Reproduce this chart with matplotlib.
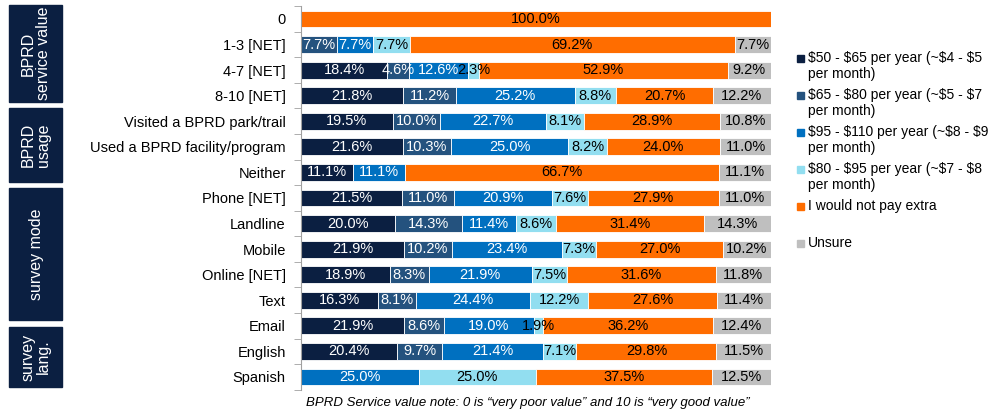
import numpy as np
import matplotlib
matplotlib.use("Agg")
import matplotlib.pyplot as plt
from matplotlib.patches import Rectangle

plt.rcParams['font.family'] = ['Liberation Sans', 'DejaVu Sans']

# rows top -> bottom
rows = ["0", "1-3 [NET]", "4-7 [NET]", "8-10 [NET]",
        "Visited a BPRD park/trail", "Used a BPRD facility/program", "Neither",
        "Phone [NET]", "Landline", "Mobile", "Online [NET]", "Text", "Email",
        "English", "Spanish"]

series = ["$50 - $65 per year (~$4 - $5\nper month)",
          "$65 - $80 per year (~$5 - $7\nper month)",
          "$95 - $110 per year (~$8 - $9\nper month)",
          "$80 - $95 per year (~$7 - $8\nper month)",
          "I would not pay extra",
          "Unsure"]

p50_65 = [0, 0, 18.4, 21.8, 19.5, 21.6, 11.1, 21.5, 20.0, 21.9, 18.9, 16.3, 21.9, 20.4, 0]
p65_80 = [0, 7.7, 4.6, 11.2, 10.0, 10.3, 0, 11.0, 14.3, 10.2, 8.3, 8.1, 8.6, 9.7, 0]
p95_110 = [0, 7.7, 12.6, 25.2, 22.7, 25.0, 11.1, 20.9, 11.4, 23.4, 21.9, 24.4, 19.0, 21.4, 25.0]
p80_95 = [0, 7.7, 2.3, 8.8, 8.1, 8.2, 0, 7.6, 8.6, 7.3, 7.5, 12.2, 1.9, 7.1, 25.0]
no_pay = [100.0, 69.2, 52.9, 20.7, 28.9, 24.0, 66.7, 27.9, 31.4, 27.0, 31.6, 27.6, 36.2, 29.8, 37.5]
unsure = [0, 7.7, 9.2, 12.2, 10.8, 11.0, 11.1, 11.0, 14.3, 10.2, 11.8, 11.4, 12.4, 11.5, 12.5]

groups = ["BPRD\nservice value", "BPRD\nusage", "survey mode", "survey\nlang."]

footnote = "BPRD Service value note: 0 is \u201cvery poor value\u201d and 10 is \u201cvery good value\u201d"

colors = ["#0B1F41", "#24527E", "#0070C0", "#92DEF0", "#FF6D00", "#BFBFBF"]
text_colors = ["white", "white", "white", "black", "black", "black"]

data = [p50_65, p65_80, p95_110, p80_95, no_pay, unsure]

fig = plt.figure(figsize=(10, 4.12), dpi=100)
ax = fig.add_axes([0.301, 0.054, 0.47, 0.931])

n = len(rows)
y = np.arange(n)
left = np.zeros(n)
for vals, c, tc in zip(data, colors, text_colors):
    vals = np.array(vals, dtype=float)
    ax.barh(y, vals, left=left, height=0.66, color=c, edgecolor="white", linewidth=0.6)
    for yi, v, l in zip(y, vals, left):
        if v > 0:
            ax.text(l + v / 2, yi, f"{v:.1f}%", ha="center", va="center",
                    color=tc, fontsize=10.5)
    left += vals

ax.set_xlim(0, 100)
ax.set_ylim(n - 0.5, -0.5)
ax.set_yticks(y)
ax.set_yticklabels(rows, fontsize=10.5)
ax.set_yticks(np.arange(-0.5, n), minor=True)
ax.tick_params(axis="y", which="major", length=0, pad=11)
ax.tick_params(axis="y", which="minor", length=5, color="#A0A0A0", direction="out")
ax.set_xticks([])
for s in ["top", "right", "bottom"]:
    ax.spines[s].set_visible(False)
ax.spines["left"].set_color("#A0A0A0")

# group boxes on the left (pixel extents)
H = 412.0
box_px = [(5, 102), (108, 182), (188, 320), (327, 387)]
for name, (top_px, bot_px) in zip(groups, box_px):
    fig.patches.append(Rectangle((9 / 1000, 1 - bot_px / H), 53 / 1000, (bot_px - top_px) / H,
                                 transform=fig.transFigure, color="#0B1F41"))
    fig.text(36 / 1000, 1 - (top_px + bot_px) / 2 / H, name, rotation=90, ha="center",
             va="center", color="white", fontsize=11.5, multialignment="center",
             linespacing=1.0)

# legend
leg_top = 51
for k, (lab, c) in enumerate(zip(series, colors)):
    ty = leg_top + k * 37
    fig.patches.append(Rectangle((797 / 1000, 1 - (ty + 11) / H), 7 / 1000, 7 / H,
                                 transform=fig.transFigure, color=c))
    fig.text(808 / 1000, 1 - ty / H, lab, ha="left", va="top", fontsize=10,
             linespacing=1.15, parse_math=False)

fig.text(528 / 1000, 1 - 403 / H, footnote, ha="center", va="center",
         fontsize=9.5, style="italic")

fig.savefig("out.png", dpi=100)
